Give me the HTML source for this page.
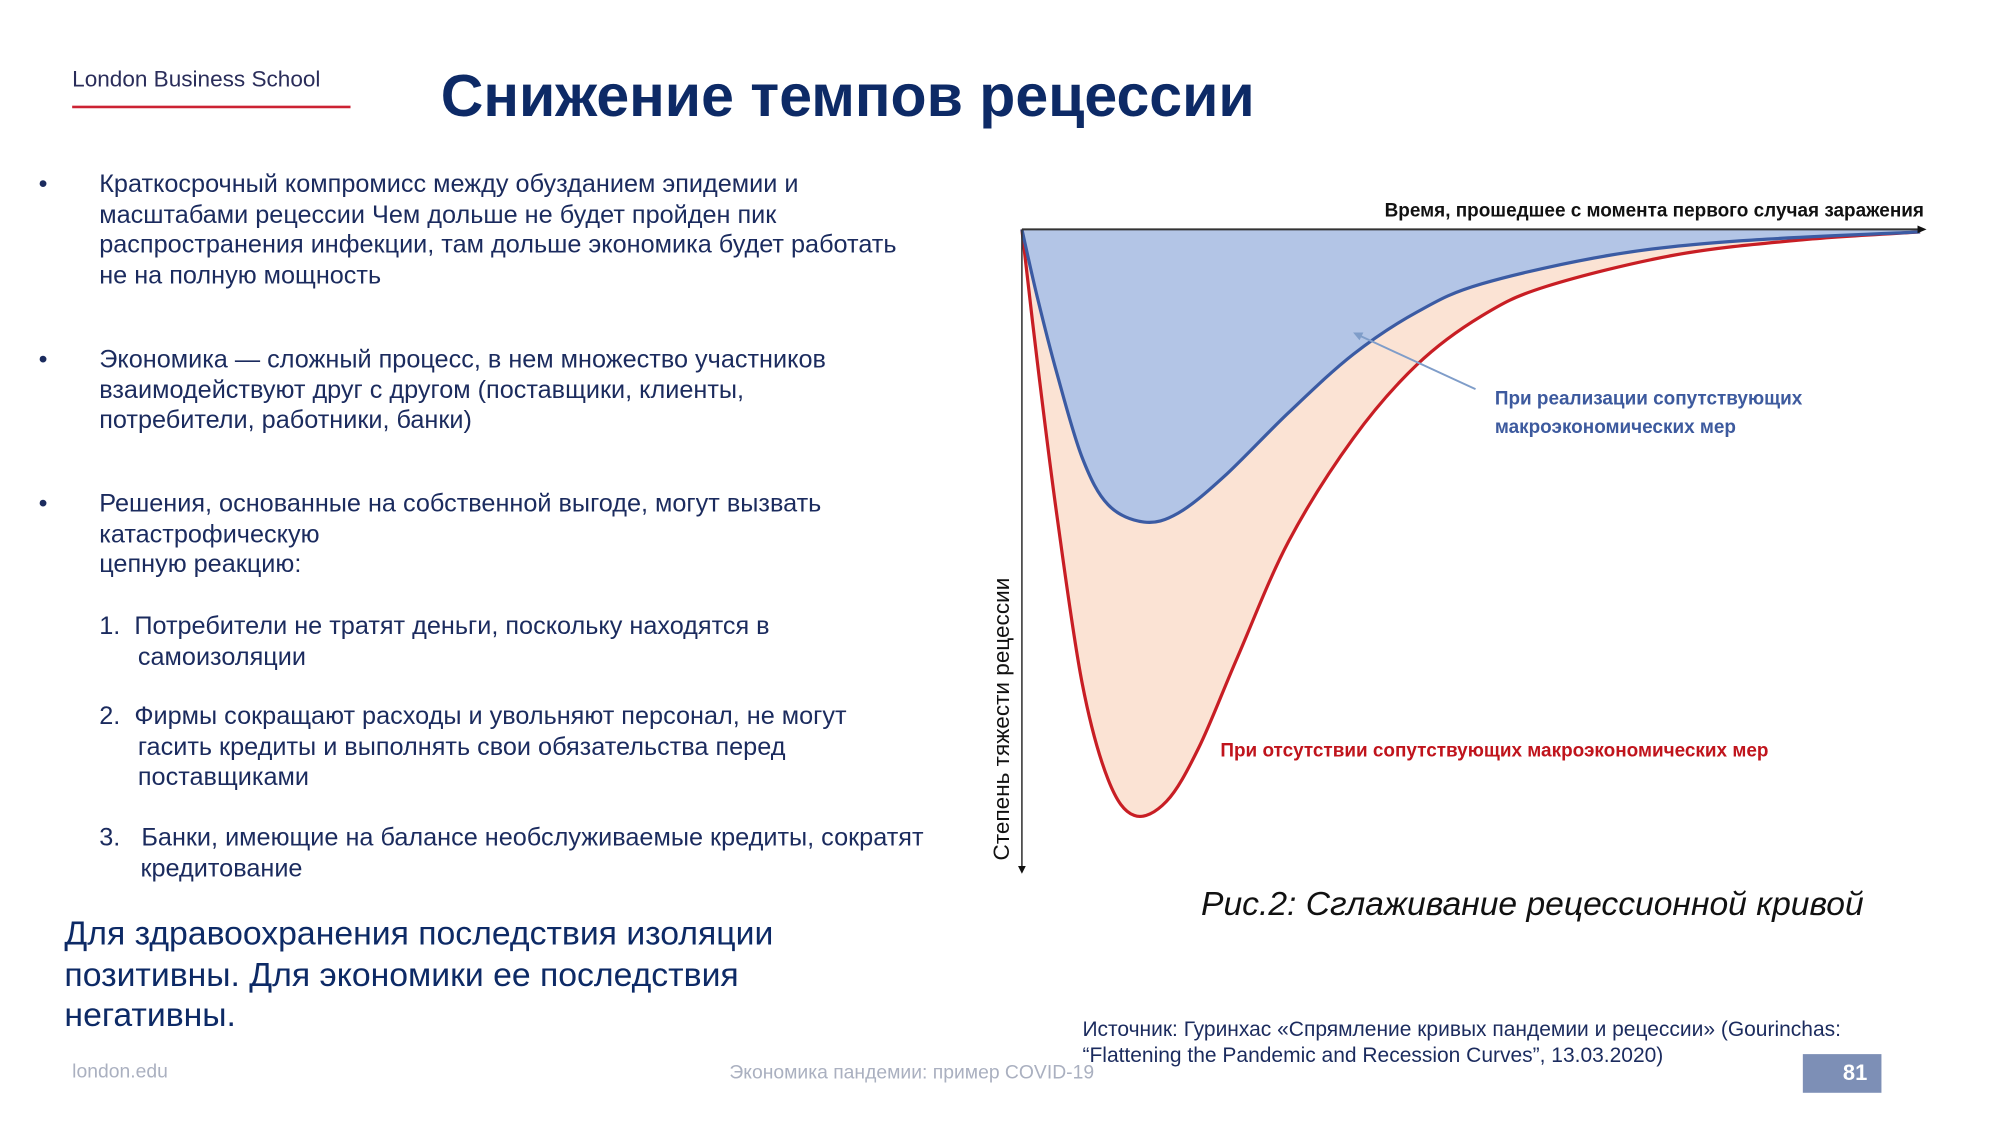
<!DOCTYPE html>
<html><head><meta charset="utf-8"><style>
html,body{margin:0;padding:0;background:#fff;}
body{width:2000px;height:1125px;overflow:hidden;position:relative;font-family:"Liberation Sans",sans-serif;}
#stage{position:absolute;left:0;top:0;width:1552px;height:873px;transform:scale(1.28866);transform-origin:0 0;}
.t{position:absolute;white-space:nowrap;}
.body{color:#1b2b5e;font-size:19.6px;line-height:23.6px;}
</style></head><body>
<div id="stage">
<div class="t" style="left:56px;top:51px;font-size:17.5px;color:#2a2d5a;">London Business School</div>
<div style="position:absolute;left:56px;top:82px;width:216px;height:2px;background:#cc2233;"></div>
<div class="t" style="left:342px;top:49px;font-size:45.8px;font-weight:bold;color:#0d2a66;">Снижение темпов рецессии</div>

<div class="t body" style="left:77px;top:132px;">Краткосрочный компромисс между обузданием эпидемии и<br>масштабами рецессии Чем дольше не будет пройден пик<br>распространения инфекции, там дольше экономика будет работать<br>не на полную мощность</div>
<div class="t body" style="left:30px;top:132px;">•</div>
<div class="t body" style="left:77px;top:268px;">Экономика — сложный процесс, в нем множество участников<br>взаимодействуют друг с другом (поставщики, клиенты,<br>потребители, работники, банки)</div>
<div class="t body" style="left:30px;top:268px;">•</div>
<div class="t body" style="left:77px;top:380px;">Решения, основанные на собственной выгоде, могут вызвать<br>катастрофическую<br>цепную реакцию:</div>
<div class="t body" style="left:30px;top:380px;">•</div>
<div class="t body" style="left:77px;top:475px;">1.&nbsp;&nbsp;Потребители не тратят деньги, поскольку находятся в<br><span style="padding-left:30px">самоизоляции</span></div>
<div class="t body" style="left:77px;top:545px;">2.&nbsp;&nbsp;Фирмы сокращают расходы и увольняют персонал, не могут<br><span style="padding-left:30px">гасить кредиты и выполнять свои обязательства перед</span><br><span style="padding-left:30px">поставщиками</span></div>
<div class="t body" style="left:77px;top:639px;">3.&nbsp;&nbsp;&nbsp;Банки, имеющие на балансе необслуживаемые кредиты, сократят<br><span style="padding-left:32px">кредитование</span></div>
<div class="t" style="left:50px;top:709px;font-size:26.2px;line-height:31.5px;color:#0d2a66;">Для здравоохранения последствия изоляции<br>позитивны. Для экономики ее последствия<br>негативны.</div>

<div class="t" style="left:56px;top:823px;font-size:15px;color:#aab0c0;">london.edu</div>
<div class="t" style="left:566px;top:824px;font-size:15px;color:#aab0c0;">Экономика пандемии: пример COVID-19</div>
<div class="t" style="left:840px;top:789px;font-size:16.3px;line-height:20px;color:#1b2b5e;">Источник: Гуринхас «Спрямление кривых пандемии и рецессии» (Gourinchas:<br>“Flattening the Pandemic and Recession Curves”, 13.03.2020)</div>
<div style="position:absolute;left:1399px;top:818px;width:61px;height:30px;background:#7d8fb6;color:#fff;font-weight:bold;font-size:17px;line-height:30px;text-align:right;box-sizing:border-box;padding-right:11px;">81</div>
<div class="t" style="left:932px;top:686px;font-size:26.1px;font-style:italic;color:#111;">Рис.2: Сглаживание рецессионной кривой</div>

<svg id="chart" width="1552" height="873" style="position:absolute;left:0;top:0;" xmlns="http://www.w3.org/2000/svg"></svg>
</div>
<script>
const timeRed = [0,1.7,3.9,6.7,9.6,12.5,16.1,19.7,24,29.7,36.9,44,51.2,58.4,72.7,87.1,100];
const severityRed = [0,20.5,44.7,70.8,85.9,91.5,89.3,80.9,66.8,48.7,32.6,21.1,13.5,8.9,4,1.6,0.4];
const timeBlue = [0,1.7,3.9,6.7,9.6,13.6,17.4,22.5,29.7,36.9,44,51.2,65.6,79.9,100];
const severityBlue = [0,10.5,22.5,35.6,43,45.7,44.3,38.6,28.6,19.5,12.9,8.5,4,1.8,0.4];

const NS='http://www.w3.org/2000/svg';
const svg=document.getElementById('chart');
const X0=793,X1=1490,Y0=178,Y1=675;
const xs=t=>X0+(X1-X0)*t/100;
const ys=s=>Y0+(Y1-Y0)*s/100;
function smooth(ts,vs){
  const p=ts.map((t,i)=>[xs(t),ys(vs[i])]);
  let d='M'+p[0][0]+','+p[0][1];
  for(let i=0;i<p.length-1;i++){
    const a=p[Math.max(0,i-1)],b=p[i],c=p[i+1],e=p[Math.min(p.length-1,i+2)];
    const c1=[b[0]+(c[0]-a[0])/6,b[1]+(c[1]-a[1])/6];
    const c2=[c[0]-(e[0]-b[0])/6,c[1]-(e[1]-b[1])/6];
    d+=' C'+c1[0]+','+c1[1]+' '+c2[0]+','+c2[1]+' '+c[0]+','+c[1];
  }
  return d;
}
function mk(tag,attrs){const el=document.createElementNS(NS,tag);for(const k in attrs)el.setAttribute(k,attrs[k]);svg.appendChild(el);return el;}
const redD=smooth(timeRed,severityRed), blueD=smooth(timeBlue,severityBlue);
let el;
el=mk('path',{d:redD+' L'+xs(100)+','+Y0+' Z',fill:'#fbe3d4'});


el=mk('path',{d:blueD+' L'+xs(100)+','+Y0+' Z',fill:'#b3c5e6'});


el=mk('path',{d:redD,fill:'none',stroke:'#c81e24','stroke-width':2.5});


el=mk('path',{d:blueD,fill:'none',stroke:'#3b5ba3','stroke-width':2.5});


el=mk('line',{x1:X0,y1:Y0,x2:X1+2,y2:Y0,stroke:'#333','stroke-width':1.5});


el=mk('path',{d:'M'+(X1+5)+','+Y0+' l-7,-3 v6 z',fill:'#111'});


el=mk('line',{x1:X0,y1:Y0,x2:X0,y2:Y1-2,stroke:'#333','stroke-width':1.2});


el=mk('path',{d:'M'+X0+','+(Y1+3)+' l-3,-6 h6 z',fill:'#111'});


el=mk('line',{x1:1145,y1:302,x2:1054,y2:260,stroke:'#7f9dc9','stroke-width':1.5});


el=mk('path',{d:'M1050,258 l8,0 l-3,6 z',fill:'#7f9dc9'});


function txt(x,y,s,attrs,name){const t=mk('text',Object.assign({x:x,y:y,'font-family':'Liberation Sans, sans-serif'},attrs));t.textContent=s;return t;}
txt(1493,168,'Время, прошедшее с момента первого случая заражения',{'font-size':14.7,'font-weight':'bold','text-anchor':'end',fill:'#111'},'x-axis-title');
txt(1160,314,'При реализации сопутствующих',{'font-size':14.7,'font-weight':'bold',fill:'#3d5a9e'},'blue-series-label');
txt(1160,336,'макроэкономических мер',{'font-size':14.7,'font-weight':'bold',fill:'#3d5a9e'},'blue-series-label-2');
txt(947,587,'При отсутствии сопутствующих макроэкономических мер',{'font-size':14.7,'font-weight':'bold',fill:'#c0141c'},'red-series-label');
txt(0,0,'Степень тяжести рецессии',{'font-size':17.5,fill:'#111','text-anchor':'middle',transform:'translate(783,558) rotate(-90)'},'y-axis-title');
</script>
</body></html>
